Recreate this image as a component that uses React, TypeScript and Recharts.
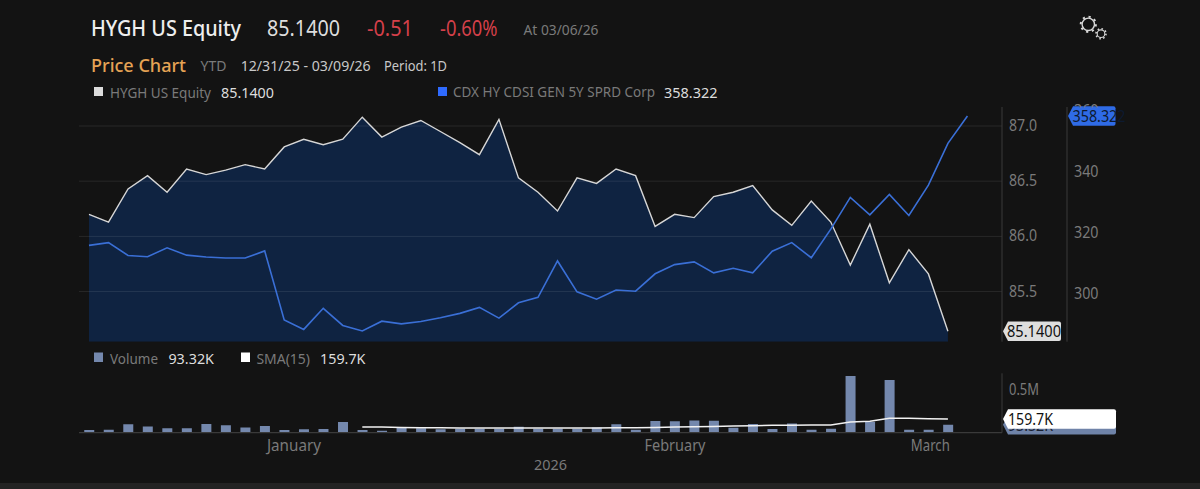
import React from "react";
import { ComposedChart, Area, Line, Bar, XAxis, YAxis, ReferenceLine, ReferenceDot } from "recharts";

const hyghValues = [86.20,86.13,86.43,86.55,86.40,86.61,86.56,86.60,86.65,86.61,86.81,86.88,86.83,86.88,87.08,86.90,86.99,87.05,86.95,86.85,86.74,87.06,86.53,86.40,86.23,86.53,86.48,86.61,86.55,86.09,86.20,86.17,86.36,86.40,86.46,86.24,86.10,86.32,86.13,85.74,86.11,85.58,85.88,85.66,85.14];
const cdxValues = [316.0,316.9,312.7,312.3,315.2,312.8,312.2,311.85,311.85,314.2,291.6,288.5,295.4,289.8,288.0,291.2,290.3,291.1,292.3,293.75,295.7,292.2,297.2,299.0,310.9,300.8,298.4,301.4,301.0,306.7,309.7,310.6,307.0,308.5,307.0,314.1,316.9,311.95,321.3,331.7,326.0,332.7,325.8,335.7,349.4,358.322];
const volumeK = [31,35,98,74,51,51,101,86,62,78,31,39,43,125,31,23,55,51,39,47,47,47,70,47,47,47,62,98,35,137,133,144,140,59,101,43,109,35,47,663,129,616,35,35,93.32];
const smaK = [null,null,null,null,null,null,null,null,null,null,null,null,null,null,66,66,62,59,59,55,55,55,55,55,55,55,55,59,59,62,66,70,74,78,82,86,86,90,90,125,133,168,168,164,159.7];
const priceTicks = [85.5,86,86.5,87];
const cdxTicks = [300,320,340,360];
const volumeTicks = [500];
const monthNames = ["January","February","March"];
const monthPositions = [10.5,30.02,43.1];
const monthWidths = [54,61,39];

const priceData = cdxValues.map((c, i) => ({ i, hygh: hyghValues[i], cdx: c }));
const volumeData = volumeK.map((v, i) => ({ i, vol: v, sma: smaK[i] }));

const X_DOMAIN: [number, number] = [-0.512, 46.77];
const FONT = "'Noto Sans', sans-serif";
const GREY = "#7a7a7a";
const AXIS = "#3a3a3a";
const PRICE_AXIS = "a-price";
const CDX_AXIS = "b-cdx";

function T({ x, y, w, size = 15, fill = GREY, weight = 400, children }: any) {
  return (
    <text x={x} y={y} fontSize={size} fill={fill} fontWeight={weight} fontFamily={FONT}
      dominantBaseline="central" textLength={w} lengthAdjust="spacingAndGlyphs">{children}</text>
  );
}

function Tag({ cx, cy, dx = 0, w, h = 19.5, fill, text, textW, textFill = "#111", textX = 5 }: any) {
  const x0 = cx + dx + 1;
  const t = cy - h / 2, b = cy + h / 2;
  const d = `M${x0} ${cy} L${x0 + 5} ${t} L${x0 + w - 2} ${t} Q${x0 + w} ${t} ${x0 + w} ${t + 2} L${x0 + w} ${b - 2} Q${x0 + w} ${b} ${x0 + w - 2} ${b} L${x0 + 5} ${b} Z`;
  return (
    <g>
      <path d={d} fill={fill} />
      <text x={x0 + textX} y={cy} fontSize={16} fill={textFill} fontFamily={FONT} dominantBaseline="central"
        textLength={textW} lengthAdjust="spacingAndGlyphs">{text}</text>
    </g>
  );
}

function MonthTick({ x, y, payload }: any) {
  const k = monthPositions.indexOf(payload.value);
  return (
    <text x={x} y={y} textAnchor="middle" fontSize={15.5} fill={GREY} fontFamily={FONT} dominantBaseline="central"
      textLength={monthWidths[k]} lengthAdjust="spacingAndGlyphs">{monthNames[k]}</text>
  );
}

function AxisTick({ x, y, label, w, clip }: any) {
  return (
    <text x={x} y={y - 1} fontSize={15.5} fill={GREY} fontFamily={FONT} dominantBaseline="central"
      textLength={w} lengthAdjust="spacingAndGlyphs" clipPath={clip}>{label}</text>
  );
}
const priceTick = (p: any) => <AxisTick x={p.x} y={p.y} w={28} label={p.payload.value.toFixed(1)} />;
// The top tick sits behind the blue value tag, only its upper sliver shows above the tag.
const cdxTick = (p: any) => {
  const hidden = p.payload.value === cdxTicks[cdxTicks.length - 1];
  return (
    <g>
      {hidden && (
        <clipPath id="above-tag">
          <rect x={p.x - 2} y={p.y - 12} width={40} height={8.5} />
        </clipPath>
      )}
      <AxisTick x={p.x} y={p.y} w={24.5} label={String(p.payload.value)} clip={hidden ? "url(#above-tag)" : undefined} />
    </g>
  );
};
const volTick = (p: any) => <AxisTick x={p.x} y={p.y} w={30} label={`${p.payload.value / 1000}M`} />;

function Gears() {
  return (
    <g fill="none" stroke="#d8d8d8">
      <circle cx={1088.3} cy={24.3} r={6.2} strokeWidth={1.4} />
      <circle cx={1088.3} cy={24.3} r={7.6} strokeWidth={2} strokeDasharray="2.2 3.77" />
      <circle cx={1101} cy={33.7} r={3.8} strokeWidth={1.1} />
      <circle cx={1101} cy={33.7} r={5} strokeWidth={1.6} strokeDasharray="1.6 2.3" />
    </g>
  );
}

export default function App() {
  return (
    <div style={{ position: "absolute", left: 0, top: 0, width: 1200, height: 489, background: "#131313", overflow: "hidden" }}>
      <div style={{ position: "absolute", left: 0, top: 483, width: 1200, height: 6, background: "#232323" }} />
      <div style={{ position: "absolute", left: 0, top: 0 }}>
        <ComposedChart width={1200} height={345} data={priceData} margin={{ top: 107, right: 68, bottom: 3.3, left: 79 }}>
          <XAxis dataKey="i" type="number" domain={X_DOMAIN} allowDataOverflow tick={false} tickLine={false} height={0} axisLine={{ stroke: AXIS, strokeWidth: 1.2 }} />
          <YAxis yAxisId={PRICE_AXIS} orientation="right" type="number" domain={[85.046, 87.172]} allowDataOverflow ticks={priceTicks} width={65}
            tickSize={0} tickMargin={7} tick={priceTick} axisLine={{ stroke: AXIS }} tickLine={false} />
          <YAxis yAxisId={CDX_AXIS} orientation="right" type="number" domain={[284.48, 361.28]} allowDataOverflow ticks={cdxTicks} width={65}
            tickSize={0} tickMargin={7} tick={cdxTick} axisLine={{ stroke: AXIS }} tickLine={false} />
          <Area yAxisId={PRICE_AXIS} dataKey="hygh" type="linear" fill="#0f2341" fillOpacity={1} stroke="#d6d6d6" strokeWidth={1.4} dot={false} isAnimationActive={false} />
          {priceTicks.map((t) => (
            <ReferenceLine key={t} yAxisId={PRICE_AXIS} y={t} stroke="rgba(255,255,255,0.09)" strokeWidth={1} />
          ))}
          <Line yAxisId={CDX_AXIS} dataKey="cdx" type="linear" stroke="#3a6fd6" strokeWidth={1.6} dot={false} isAnimationActive={false} />
          <ReferenceDot yAxisId={PRICE_AXIS} x={X_DOMAIN[1]} y={hyghValues[hyghValues.length - 1]} ifOverflow="visible"
            shape={(p: any) => <Tag cx={p.cx} cy={p.cy} w={58} fill="#dedede" text="85.1400" textW={54} textX={4} />} />
          <ReferenceDot yAxisId={CDX_AXIS} x={X_DOMAIN[1]} y={cdxValues[cdxValues.length - 1]} ifOverflow="visible"
            shape={(p: any) => <Tag cx={p.cx} cy={p.cy} dx={65} w={47.5} fill="#2f6be6" text="358.322" textW={53} textFill="#0d1a30" textX={4.5} />} />
        </ComposedChart>
      </div>
      <div style={{ position: "absolute", left: 0, top: 346 }}>
        <ComposedChart width={1200} height={143} data={volumeData} margin={{ top: 27.3, right: 133, bottom: 26.3, left: 79 }}>
          <XAxis dataKey="i" type="number" domain={X_DOMAIN} allowDataOverflow ticks={monthPositions} height={30} tickSize={0} tickMargin={12}
            tick={<MonthTick />} axisLine={{ stroke: AXIS, strokeWidth: 1.2 }} tickLine={false} interval={0} />
          <YAxis yAxisId="vol" orientation="right" type="number" domain={[0, 695.6]} allowDataOverflow ticks={volumeTicks} width={65}
            tickSize={0} tickMargin={7} tick={volTick} axisLine={{ stroke: AXIS }} tickLine={false} />
          <Bar yAxisId="vol" dataKey="vol" barSize={10} fill="#7488ad" isAnimationActive={false} />
          <Line yAxisId="vol" dataKey="sma" type="linear" stroke="#f2f2f2" strokeWidth={1.5} dot={false} connectNulls={false} isAnimationActive={false} />
          <ReferenceDot yAxisId="vol" x={X_DOMAIN[1]} y={volumeK[volumeK.length - 1]} ifOverflow="visible"
            shape={(p: any) => <Tag cx={p.cx} cy={p.cy} w={113} fill="#6f83a8" text="93.32K" textW={45} textFill="#1a2233" />} />
          <ReferenceDot yAxisId="vol" x={X_DOMAIN[1]} y={smaK[smaK.length - 1] as number} ifOverflow="visible"
            shape={(p: any) => <Tag cx={p.cx} cy={p.cy} w={113} fill="#ffffff" text="159.7K" textW={45} />} />
        </ComposedChart>
      </div>
      <svg width={1200} height={489} style={{ position: "absolute", left: 0, top: 0, pointerEvents: "none" }}>
        <T x={91} y={27.5} w={150} size={21} fill="#eeeeee" weight={500}>HYGH US Equity</T>
        <T x={267} y={27.5} w={73} size={21} fill="#dddddd">85.1400</T>
        <T x={367} y={27.5} w={46} size={21} fill="#d5404a">-0.51</T>
        <T x={440} y={27.5} w={57.5} size={21} fill="#d5404a">-0.60%</T>
        <T x={523.5} y={29.7} w={75} size={14}>At 03/06/26</T>
        <T x={91} y={64.5} w={95} size={18.5} fill="#e5a355" weight={500}>Price Chart</T>
        <T x={200.5} y={65} w={26} size={15}>YTD</T>
        <T x={240.7} y={65} w={130} size={14.5} fill="#c8c8c8">12/31/25 - 03/09/26</T>
        <T x={384} y={65} w={63} size={14.5} fill="#c8c8c8">Period: 1D</T>

        <rect x={94} y={87} width={9} height={9} fill="#dcdcdc" />
        <T x={110} y={91.5} w={101}>HYGH US Equity</T>
        <T x={221} y={91.5} w={53} fill="#dddddd">85.1400</T>
        <rect x={438} y={87} width={9} height={9} fill="#2f6bff" />
        <T x={453} y={91.5} w={202} size={14}>CDX HY CDSI GEN 5Y SPRD Corp</T>
        <T x={664} y={91.5} w={53.5} fill="#dddddd">358.322</T>

        <rect x={94} y={352.5} width={9} height={9.5} fill="#7488ad" />
        <T x={110} y={357.7} w={48}>Volume</T>
        <T x={168.4} y={357.7} w={45.6} fill="#dddddd">93.32K</T>
        <rect x={241} y={352.5} width={9} height={9.5} fill="#ffffff" />
        <T x={256.4} y={357.7} w={53.6}>SMA(15)</T>
        <T x={320} y={357.7} w={45.5} fill="#dddddd">159.7K</T>

        <T x={534} y={464} w={33}>2026</T>
        <Gears />
      </svg>
    </div>
  );
}
